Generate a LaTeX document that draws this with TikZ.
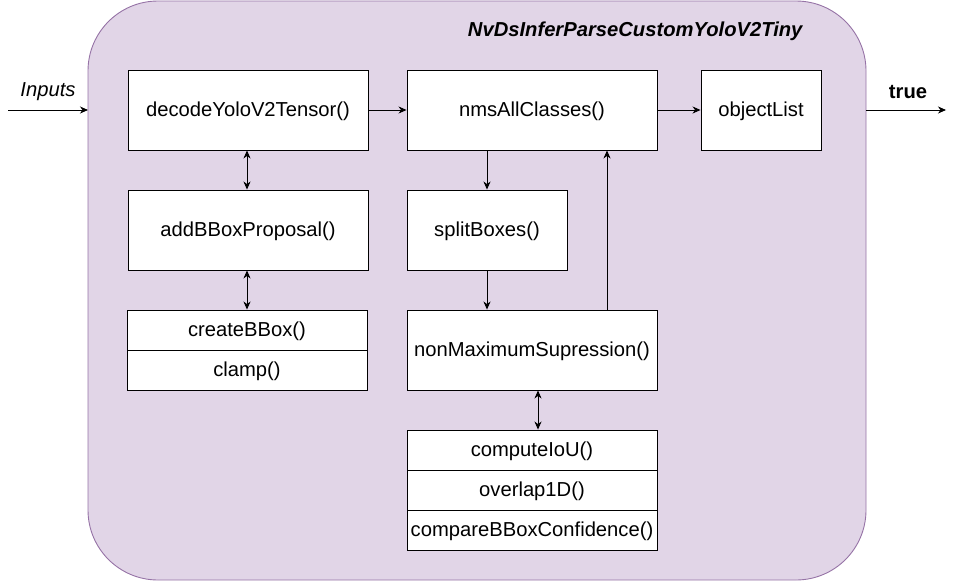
\documentclass[tikz,border=0pt]{standalone}
\usepackage{fontspec}
\setmainfont{Liberation Sans}
\usepackage{xcolor}
\usetikzlibrary{positioning,arrows.meta}
\definecolor{framebg}{RGB}{225,213,231}
\definecolor{frameline}{RGB}{150,115,166}

\begin{document}
\begin{tikzpicture}[
    x=1pt, y=-1pt,
    box/.style={rectangle, draw=black, fill=white, line width=0.9pt, minimum width=240pt, minimum height=80pt, align=center, inner sep=0pt, text depth=2pt, font=\fontsize{20.2}{24}\selectfont},
    row/.style={box, minimum height=40pt},
    link/.style={line width=0.9pt, -{Stealth[length=8pt,width=7pt,inset=2.5pt]}},
    dlink/.style={line width=0.9pt, {Stealth[length=8pt,width=7pt,inset=2.5pt]}-{Stealth[length=8pt,width=7pt,inset=2.5pt]}},
]
    \useasboundingbox (0,0) rectangle (957,581);
    \draw[fill=framebg, draw=frameline, line width=0.9pt, rounded corners=70pt] (88,1) rectangle (866,580);
    \node[anchor=east, font=\fontsize{20.2}{24}\selectfont\bfseries\itshape] (title) at (806,31) {NvDsInferParseCustomYoloV2Tiny};

    \node[box] (decode) at (248,110) {decodeYoloV2Tensor()};
    \node[box, minimum width=250pt] (nms) at (532,110) {nmsAllClasses()};
    \node[box, minimum width=120pt] (objects) at (761,110) {objectList};
    \node[box] (proposal) at (248,230) {addBBoxProposal()};
    \node[row] (create) at (247,330) {createBBox()};
    \node[row] (clamp) at (247,370) {clamp()};
    \node[box, minimum width=160pt] (split) at (487,230) {splitBoxes()};
    \node[box, minimum width=250pt] (nonmax) at (532,350) {nonMaximumSupression()};
    \node[row, minimum width=250pt] (iou) at (532,450) {computeIoU()};
    \node[row, minimum width=250pt] (overlap) at (532,490) {overlap1D()};
    \node[row, minimum width=250pt] (confidence) at (532,530) {compareBBoxConfidence()};

    \coordinate (in) at (8,110);
    \coordinate (out) at (946,110);
    \coordinate (framein) at (88,110);
    \coordinate (frameout) at (866,110);
    \node[font=\fontsize{20.2}{24}\selectfont\itshape] (inlabel) at (48,92) {Inputs};
    \node[font=\fontsize{20.2}{24}\selectfont\bfseries] (outlabel) at (908,92) {true};

    \draw[link] (in) -- (framein);
    \draw[link] (frameout) -- (out);
    \draw[link] (decode) -- (nms);
    \draw[link] (nms) -- (objects);
    \draw[dlink] (decode.south -| 247,0) -- (proposal.north -| 247,0);
    \draw[dlink] (proposal.south -| 247,0) -- (create.north -| 247,0);
    \draw[link] (nms.south -| split) -- (split.north);
    \draw[link] (split.south) -- (nonmax.north -| split);
    \draw[link] (nonmax.north -| 607,0) -- (nms.south -| 607,0);
    \draw[dlink] (nonmax.south -| 538,0) -- (iou.north -| 538,0);
\end{tikzpicture}
\end{document}
